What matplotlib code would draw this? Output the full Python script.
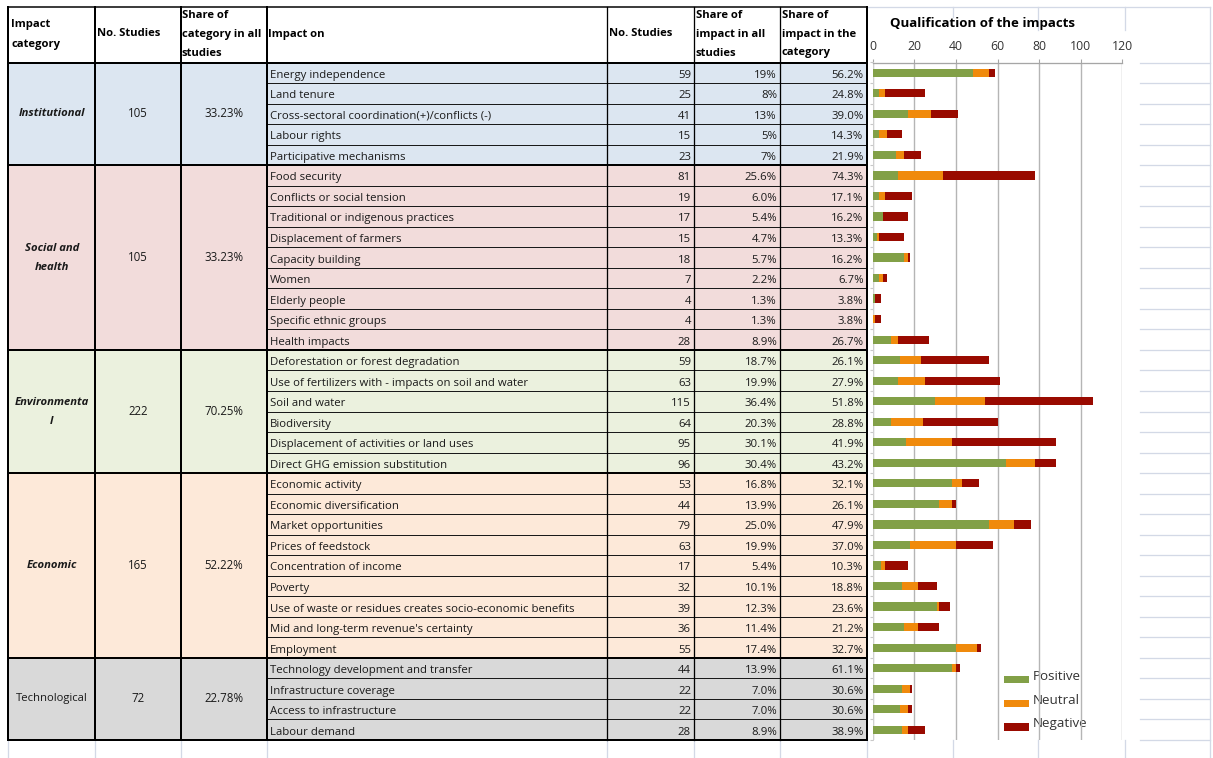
import matplotlib
matplotlib.use("Agg")
import matplotlib.pyplot as plt
from matplotlib.patches import Rectangle
import numpy as np

# ---------------- data ----------------
categories = ["Institutional", "Social and\nhealth", "Environmenta\nl", "Economic", "Technological"]
cat_rows = [5, 9, 6, 9, 4]
cat_studies = [105, 105, 222, 165, 72]
cat_share = ["33.23%", "33.23%", "70.25%", "52.22%", "22.78%"]

impacts = ["Energy independence", "Land tenure", "Cross-sectoral coordination(+)/conflicts (-)",
           "Labour rights", "Participative mechanisms", "Food security", "Conflicts or social tension",
           "Traditional or indigenous practices", "Displacement of farmers", "Capacity building",
           "Women", "Elderly people", "Specific ethnic groups", "Health impacts",
           "Deforestation or forest degradation", "Use of fertilizers with - impacts on soil and water",
           "Soil and water", "Biodiversity", "Displacement of activities or land uses",
           "Direct GHG emission substitution", "Economic activity", "Economic diversification",
           "Market opportunities", "Prices of feedstock", "Concentration of income", "Poverty",
           "Use of waste or residues creates socio-economic benefits",
           "Mid and long-term revenue's certainty", "Employment",
           "Technology development and transfer", "Infrastructure coverage",
           "Access to infrastructure", "Labour demand"]
n_studies = [59, 25, 41, 15, 23, 81, 19, 17, 15, 18, 7, 4, 4, 28, 59, 63, 115, 64, 95, 96,
             53, 44, 79, 63, 17, 32, 39, 36, 55, 44, 22, 22, 28]
share_all = ["19%", "8%", "13%", "5%", "7%", "25.6%", "6.0%", "5.4%", "4.7%", "5.7%", "2.2%",
             "1.3%", "1.3%", "8.9%", "18.7%", "19.9%", "36.4%", "20.3%", "30.1%", "30.4%",
             "16.8%", "13.9%", "25.0%", "19.9%", "5.4%", "10.1%", "12.3%", "11.4%", "17.4%",
             "13.9%", "7.0%", "7.0%", "8.9%"]
share_cat = ["56.2%", "24.8%", "39.0%", "14.3%", "21.9%", "74.3%", "17.1%", "16.2%", "13.3%",
             "16.2%", "6.7%", "3.8%", "3.8%", "26.7%", "26.1%", "27.9%", "51.8%", "28.8%",
             "41.9%", "43.2%", "32.1%", "26.1%", "47.9%", "37.0%", "10.3%", "18.8%", "23.6%",
             "21.2%", "32.7%", "61.1%", "30.6%", "30.6%", "38.9%"]

positive = [48, 3, 17, 3, 11, 12, 3, 5, 2, 15, 3, 1, 0, 9, 13, 12, 30, 9, 16, 64,
            38, 32, 56, 18, 4, 14, 31, 15, 40, 38, 14, 13, 14]
neutral = [8, 3, 11, 4, 4, 22, 3, 0, 1, 2, 2, 0, 1, 3, 10, 13, 24, 15, 22, 14,
           5, 6, 12, 22, 2, 8, 1, 7, 10, 2, 4, 4, 3]
negative = [3, 19, 13, 7, 8, 44, 13, 12, 12, 1, 2, 3, 3, 15, 33, 36, 52, 36, 50, 10,
            8, 2, 8, 18, 11, 9, 5, 10, 2, 2, 1, 2, 8]

x_ticks = [0, 20, 40, 60, 80, 100, 120]
series_names = ["Positive", "Neutral", "Negative"]
title = "Qualification of the impacts"

# ---------------- style ----------------
plt.rcParams['font.family'] = ['Open Sans', 'DejaVu Sans']
cat_colors = ["#dce6f1", "#f2dcdb", "#ebf1de", "#fde9d9", "#d9d9d9"]
bar_colors = ["#82a047", "#f08a0c", "#990a00"]
grid_light = "#d3d9e6"
txt_col = '#1a1a1a'
PX = 0.72  # points per pixel

W, H = 1213, 758
fig = plt.figure(figsize=(W / 100, H / 100), dpi=100)
bg = fig.add_axes([0, 0, 1, 1])
bg.set_xlim(0, W)
bg.set_ylim(H, 0)
bg.axis('off')

cx = [8.3, 95, 180.7, 266.7, 606.7, 694, 780, 866.7]
top = 6.7
hdr_bot = 62.5
bot = 740
nrows = len(impacts)
rh = (bot - hdr_bot) / nrows

# light spreadsheet grid lines
for yy in np.linspace(hdr_bot, bot, nrows + 1):
    bg.plot([1140, 1210], [yy, yy], color=grid_light, lw=1.3 * PX, zorder=0)
bg.plot([866.7, 1210], [top, top], color=grid_light, lw=1.3 * PX, zorder=0)
bg.plot([1210, 1210], [top, H], color=grid_light, lw=1.3 * PX, zorder=0)
bg.plot([952.7, 952.7], [top, 17], color=grid_light, lw=1.3 * PX, zorder=0)
for xx in [1038, 1125]:
    bg.plot([xx, xx], [top, 30], color=grid_light, lw=1.3 * PX, zorder=0)
for xx in cx + [952.7, 1038, 1125]:
    bg.plot([xx, xx], [bot, H], color=grid_light, lw=1.3 * PX, zorder=0)

# category fills
r0 = 0
for k, n in enumerate(cat_rows):
    y0 = hdr_bot + r0 * rh
    bg.add_patch(Rectangle((cx[0], y0), cx[7] - cx[0], n * rh, facecolor=cat_colors[k],
                           edgecolor='none', zorder=1))
    r0 += n

# row lines in impact columns
for i in range(1, nrows):
    yy = hdr_bot + i * rh
    bg.plot([cx[3], cx[7]], [yy, yy], color='#1a1a1a', lw=1.0 * PX, zorder=2)

# category boundaries
r0 = 0
bounds = [hdr_bot]
for n in cat_rows:
    r0 += n
    bounds.append(hdr_bot + r0 * rh)
for yy in bounds:
    bg.plot([cx[0], cx[7]], [yy, yy], color='black', lw=2.0 * PX, zorder=3)
bg.plot([cx[0], cx[7]], [top, top], color='black', lw=1.5 * PX, zorder=3)

# vertical lines
for j, xx in enumerate(cx):
    lw = 2.0 if j in (0, 1, 2, 3, 7) else 1.3
    bg.plot([xx, xx], [top, bot], color='black', lw=lw * PX, zorder=3)

# header texts
hfs = 8.1
def htxt(x, y, s):
    bg.text(x, y, s, fontsize=hfs, fontweight='bold', ha='left', va='center', zorder=4)

htxt(11, 25, "Impact")
htxt(11, 45, "category")
htxt(97, 34, "No. Studies")
htxt(182, 15, "Share of")
htxt(182, 35, "category in all")
htxt(182, 54, "studies")
htxt(268, 35, "Impact on")
htxt(609, 34, "No. Studies")
htxt(696, 15, "Share of")
htxt(696, 34, "impact in all")
htxt(696, 53, "studies")
htxt(782, 15, "Share of")
htxt(782, 34, "impact in the")
htxt(782, 53, "category")

# category texts
r0 = 0
for k, n in enumerate(cat_rows):
    yc = hdr_bot + (r0 + n / 2) * rh
    style = 'normal' if categories[k] == "Technological" else 'italic'
    weight = 'normal' if categories[k] == "Technological" else 'bold'
    lines = categories[k].split("\n")
    for li, line in enumerate(lines):
        yy = yc + (li - (len(lines) - 1) / 2) * 19
        bg.text((cx[0] + cx[1]) / 2, yy, line, fontsize=8.1, fontstyle=style, fontweight=weight,
                ha='center', va='center', zorder=4, color=txt_col)
    bg.text((cx[1] + cx[2]) / 2, yc, str(cat_studies[k]), fontsize=8.3, ha='center', va='center',
            zorder=4, color=txt_col)
    bg.text((cx[2] + cx[3]) / 2, yc, cat_share[k], fontsize=8.3, ha='center', va='center',
            zorder=4, color=txt_col)
    r0 += n

# row texts
rfs = 8.2
for i in range(nrows):
    yc = hdr_bot + (i + 0.5) * rh + 2.5
    bg.text(cx[3] + 3, yc, impacts[i], fontsize=rfs, ha='left', va='center', zorder=4, color=txt_col)
    bg.text(cx[5] - 3, yc, str(n_studies[i]), fontsize=rfs, ha='right', va='center', zorder=4, color=txt_col)
    bg.text(cx[6] - 3, yc, share_all[i], fontsize=rfs, ha='right', va='center', zorder=4, color=txt_col)
    bg.text(cx[7] - 3, yc, share_cat[i], fontsize=rfs, ha='right', va='center', zorder=4, color=txt_col)

# title
bg.text(983, 23, title, fontsize=9.5, fontweight='bold', ha='center', va='center', zorder=4)

# ---------------- bar chart ----------------
x0, x1 = 872.7, 1122.3
ax = fig.add_axes([x0 / W, 1 - bot / H, (x1 - x0) / W, (bot - hdr_bot) / H])
ax.patch.set_alpha(0)
y = np.arange(nrows)
pos = np.array(positive)
neu = np.array(neutral)
neg = np.array(negative)
ax.barh(y, pos, height=0.4, color=bar_colors[0], zorder=3)
ax.barh(y, neu, left=pos, height=0.4, color=bar_colors[1], zorder=3)
ax.barh(y, neg, left=pos + neu, height=0.4, color=bar_colors[2], zorder=3)
ax.set_xlim(0, 120)
ax.set_ylim(nrows - 0.5, -0.5)
ax.xaxis.tick_top()
ax.set_xticks(x_ticks)
ax.set_xticklabels([str(t) for t in x_ticks])
ax.tick_params(axis='x', length=3, color='#a6a6a6', labelsize=8.8, labelcolor='#333333', pad=4)
ax.set_yticks(np.arange(-0.5, nrows, 1))
ax.set_yticklabels([])
ax.tick_params(axis='y', length=2, color='#c8c8c8')
ax.grid(axis='x', color='#b5b5b5', lw=1.4 * PX, zorder=1)
for s in ['right', 'bottom']:
    ax.spines[s].set_visible(False)
ax.spines['top'].set_color('#a6a6a6')
ax.spines['top'].set_linewidth(1.3 * PX)
ax.spines['left'].set_color('#d0d0d0')
ax.spines['left'].set_linewidth(1.0 * PX)

# legend (manual placement)
leg_y = [679.5, 703.5, 727]
for k, name in enumerate(series_names):
    bg.add_patch(Rectangle((1004, leg_y[k] - 3.7), 25, 7.4, facecolor=bar_colors[k],
                           edgecolor='none', zorder=5))
    bg.text(1033, leg_y[k] - 3, name, fontsize=9.6, color='#333333', ha='left', va='center', zorder=5)

fig.savefig("out.png", dpi=100, facecolor='white')
